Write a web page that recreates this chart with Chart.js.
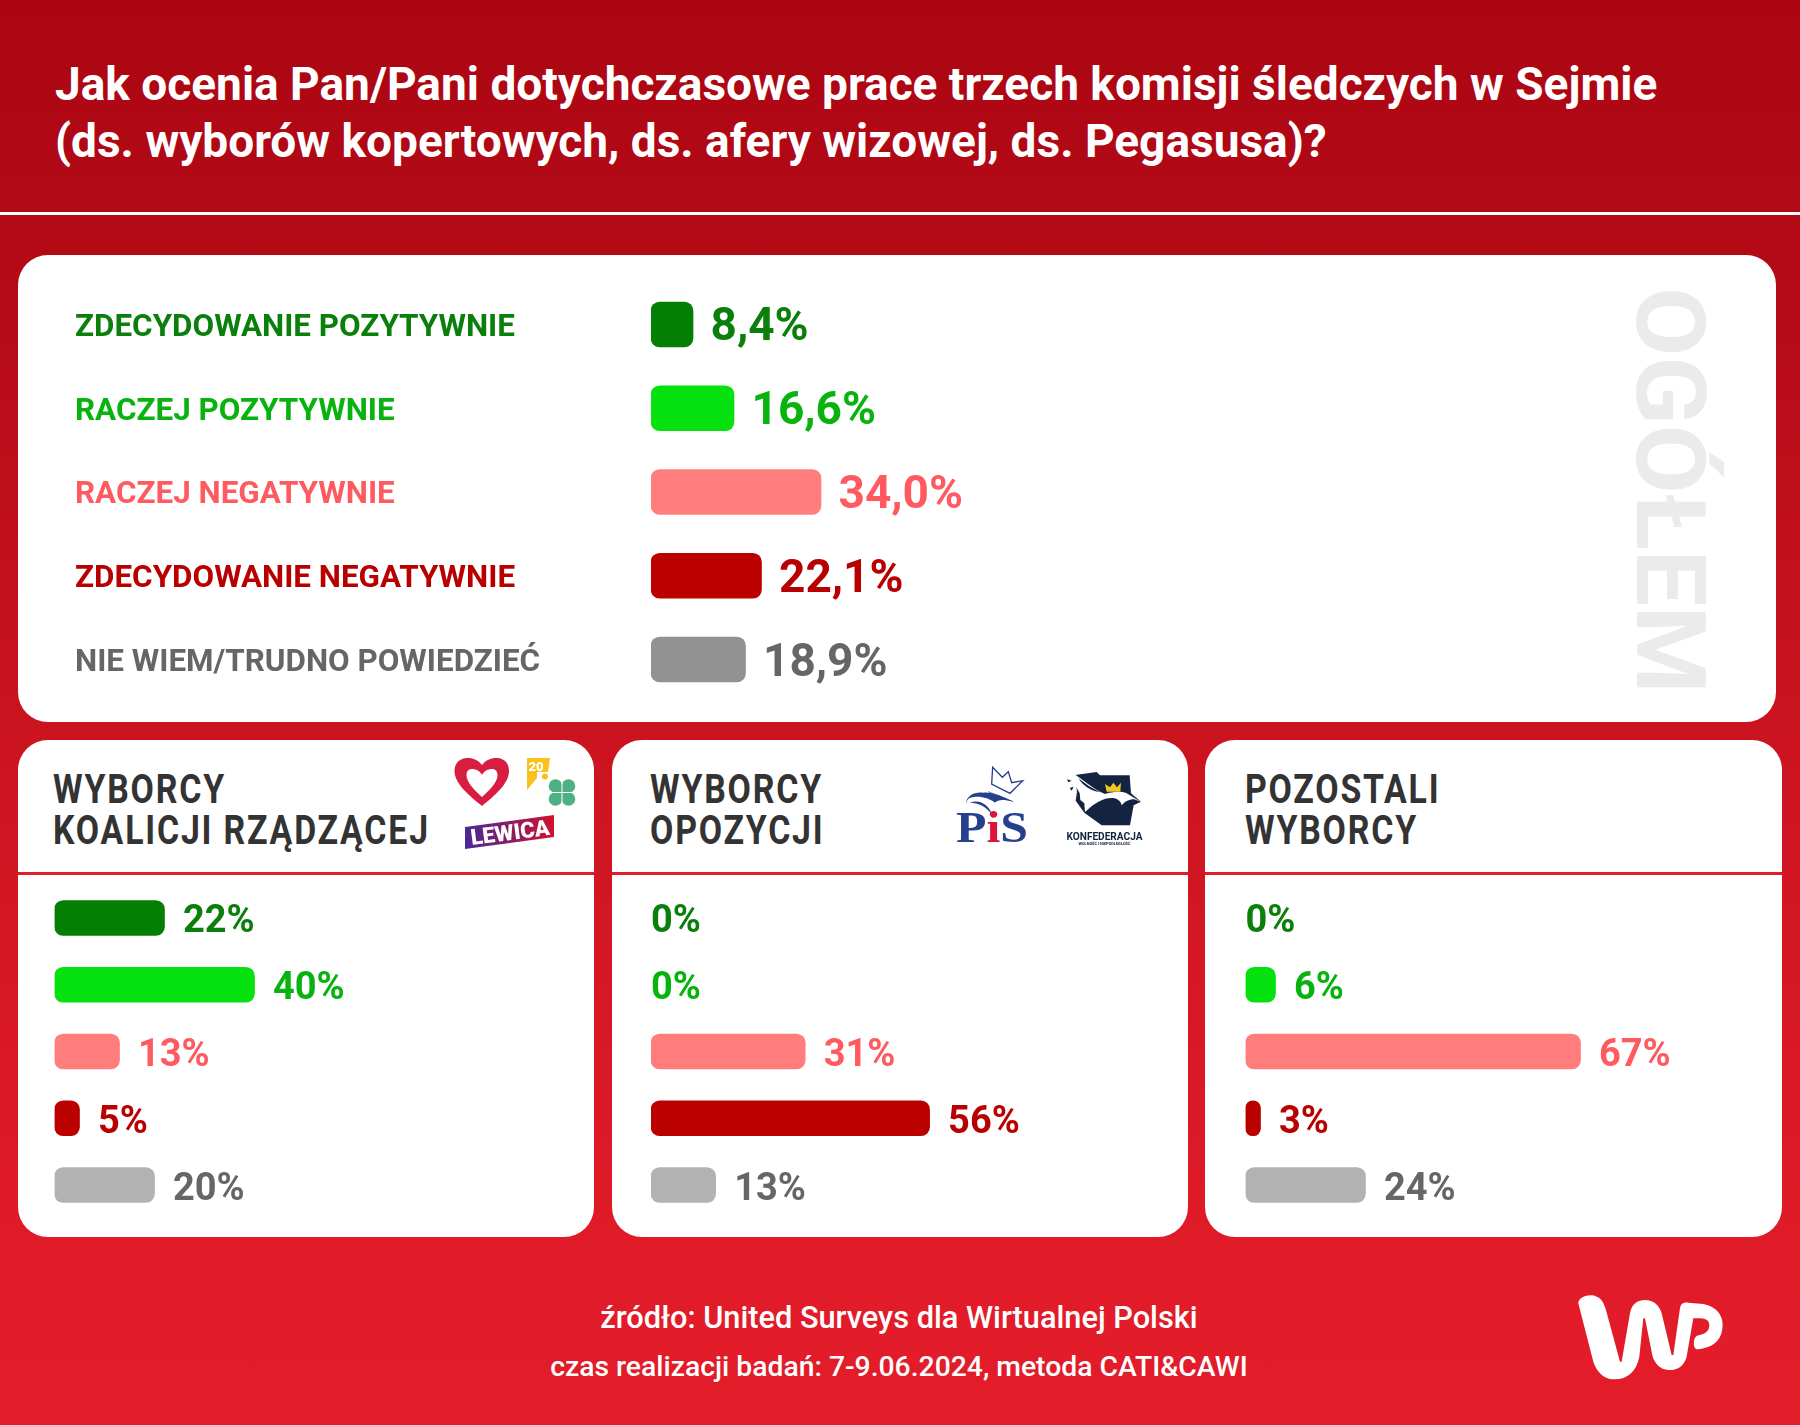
<!DOCTYPE html>
<html lang="pl">
<head>
<meta charset="utf-8">
<title>Ocena prac komisji śledczych</title>
<script src="https://cdn.jsdelivr.net/npm/chart.js@4/dist/chart.umd.min.js"></script>
<style>
    html, body { margin: 0; padding: 0; }
    #page {
        position: relative; width: 1800px; height: 1425px; overflow: hidden;
        background: linear-gradient(180deg, #ac0613 0%, #b30a16 18%, #cb1420 52%, #e01b28 86%, #e31c2a 100%);
        font-family: Roboto, sans-serif;
    }
    .abs { position: absolute; }
    .card { position: absolute; background: #fff; border-radius: 30px; }
    .title { left: 55px; color: #fff; font-weight: 700; font-size: 46px; line-height: 57px; white-space: nowrap; }
    .head {
        color: #333; font-weight: 700; font-size: 41px; line-height: 41px; white-space: nowrap;
        transform: scaleX(0.825); transform-origin: 0 0; letter-spacing: 2.2px;
    }
    .rule { position: absolute; height: 3px; background: #e21c2a; }
    .foot { left: 0; width: 1798px; text-align: center; color: #fff; font-weight: 500; white-space: nowrap; }
    canvas { position: absolute; display: block; }
    svg { position: absolute; left: 0; top: 0; }
</style>
</head>
<body>
<div id="page">
    <div class="abs title" style="top:56px">Jak ocenia Pan/Pani dotychczasowe prace trzech komisji śledczych w Sejmie</div>
    <div class="abs title" style="top:113px">(ds. wyborów kopertowych, ds. afery wizowej, ds. Pegasusa)?</div>
    <div class="abs" style="left:0;top:212px;width:1800px;height:3px;background:#fff"></div>

    <div class="card" style="left:18px;top:255px;width:1758px;height:467px"></div>
    <div class="card" style="left:18px;top:740px;width:576px;height:497px"></div>
    <div class="card" style="left:612px;top:740px;width:576px;height:497px"></div>
    <div class="card" style="left:1205px;top:740px;width:577px;height:497px"></div>

    <div class="rule" style="left:18px;top:872px;width:576px"></div>
    <div class="rule" style="left:612px;top:872px;width:576px"></div>
    <div class="rule" style="left:1205px;top:872px;width:577px"></div>

    <div class="abs head" style="left:53px;top:769px">WYBORCY</div>
    <div class="abs head" style="left:53px;top:810px">KOALICJI RZĄDZĄCEJ</div>
    <div class="abs head" style="left:650px;top:769px">WYBORCY</div>
    <div class="abs head" style="left:650px;top:810px">OPOZYCJI</div>
    <div class="abs head" style="left:1245px;top:769px">POZOSTALI</div>
    <div class="abs head" style="left:1245px;top:810px">WYBORCY</div>

    <div class="abs" style="left:1635px;top:287px;color:#ebebeb;font-weight:700;font-size:96px;line-height:69px;white-space:nowrap;transform-origin:0 0;transform:translate(69px,0) rotate(90deg) scaleX(1.045)">OGÓŁEM</div>

    <canvas id="chart-ogolem" width="1758" height="467" style="left:18px;top:255px"></canvas>
    <canvas id="chart-koalicja" width="576" height="361" style="left:18px;top:876px"></canvas>
    <canvas id="chart-opozycja" width="576" height="361" style="left:612px;top:876px"></canvas>
    <canvas id="chart-pozostali" width="577" height="361" style="left:1205px;top:876px"></canvas>

    <div class="abs foot" style="top:1299px;font-size:30.750px;line-height:38px">źródło: United Surveys dla Wirtualnej Polski</div>
    <div class="abs foot" style="top:1350px;font-size:28.300px;line-height:34px">czas realizacji badań: 7-9.06.2024, metoda CATI&amp;CAWI</div>

    <svg width="1800" height="1425" viewBox="0 0 1800 1425">
        <defs>
            <linearGradient id="lew" x1="0" x2="1" y1="0" y2="0">
                <stop offset="0" stop-color="#47289a"/>
                <stop offset="1" stop-color="#d0122f"/>
            </linearGradient>
        </defs>
        <!-- Koalicja -->
        <path d="M482 806C470 796 454.500 784 454.500 771C454.500 762 461 758 468 758C474 758 479 761 482 765C485 761 490 758 496 758C503 758 509 762 509 771C509 784 494 796 482 806Z" fill="#d81e40"/>
        <path d="M482 797C474 790 466.500 782 466.500 775C466.500 771 469 769 472 769C476 769 480 771 482 775C484 771 488 769 492 769C495 769 497.500 771 497.500 775C497.500 782 490 790 482 797Z" fill="#fff"/>
        <path d="M527 758H550L548 772H537V778L527 790Z" fill="#f9c11c"/>
        <circle cx="545" cy="776.500" r="3" fill="#f9c11c"/>
        <text x="528.500" y="770.500" font-family="Roboto" font-weight="900" font-size="13" fill="#fff">20</text>
        <g fill="#4fb086">
            <circle cx="555.500" cy="786" r="6.800"/><circle cx="568.500" cy="786" r="6.800"/>
            <circle cx="555.500" cy="799" r="6.800"/><circle cx="568.500" cy="799" r="6.800"/>
            <path d="M562 792.500L552 784H572L572 801H552L552 784Z"/>
        </g>
        <path d="M562 780V807M550 792.500H574" stroke="#fff" stroke-width="1"/>
        <path d="M465 827L554 815V837L465 849Z" fill="url(#lew)"/>
        <text x="510" y="840" transform="rotate(-7.500 510 832)" text-anchor="middle" font-family="Roboto" font-weight="900" font-size="22" fill="#fff">LEWICA</text>
        <!-- PiS -->
        <g transform="translate(945 760) scale(0.3333)">
            <path d="M143 22L172 52L190 35L200 68L233 62L195 100L140 72Z" fill="none" stroke="#27408b" stroke-width="4"/>
            <path d="M130 95L205 125" stroke="#27408b" stroke-width="2"/>
            <path d="M63 135C62 105 90 95 115 98C140 95 175 110 205 125C175 118 160 118 150 128C130 112 95 105 72 115C66 120 64 128 63 135Z" fill="#27408b"/>
            <path d="M75 128C100 118 130 130 142 165C125 140 100 128 75 128Z" fill="#27408b"/>
        </g>
        <text x="956" y="841.500" font-family="Liberation Serif" font-weight="700" font-size="45" textLength="72" lengthAdjust="spacingAndGlyphs" fill="#27408b">P<tspan fill="#dc143c">i</tspan>S</text>
        <!-- Konfederacja -->
        <g transform="translate(1055 760) scale(0.3333)">
            <path d="M60 45L125 36L135 46L224 46L228 100L258 125L236 136L225 196L140 196L88 158L62 122L66 95Z" fill="#14233f"/>
            <path d="M48 35C80 55 110 85 150 102C170 96 195 92 215 100L258 126L238 118C225 118 212 122 200 136C198 122 185 114 170 114C145 114 120 128 90 156L88 130L76 120L74 100L60 75Z" fill="#fff"/>
            <path d="M70 55C90 70 110 85 135 97C105 92 85 78 70 55Z" fill="#14233f"/>
            <path d="M36 58L50 62L40 67ZM44 84L56 80L50 92Z" fill="#14233f"/>
            <path d="M150 72L165 82L175 68L186 82L198 68L196 95L155 95Z" fill="#f3c623"/>
        </g>
        <text x="1104.500" y="840" text-anchor="middle" font-family="Roboto" font-weight="700" font-size="10.500" textLength="76" lengthAdjust="spacingAndGlyphs" fill="#14233f">KONFEDERACJA</text>
        <text x="1104.500" y="845" text-anchor="middle" font-family="Roboto" font-weight="700" font-size="3.500" textLength="52" lengthAdjust="spacingAndGlyphs" fill="#14233f">WOLNOŚĆ I NIEPODLEGŁOŚĆ</text>
        <!-- WP -->
        <path transform="translate(1400 1250) scale(0.3333)" fill="#fff" d="M535 160C535 140 570 130 590 140C605 145 612 160 618 180L660 335L665 335L690 190C695 160 715 150 735 150C760 150 778 165 785 190L815 315L820 315L840 175C843 160 850 157 865 158L910 162C950 170 968 195 968 225C968 265 945 290 905 296L895 298C885 298 880 290 882 275C883 262 890 256 900 255C920 250 928 240 928 225C928 210 915 205 895 205L880 205L860 320C852 350 830 362 805 360C780 358 765 340 758 320L735 205L730 205L718 320C710 365 680 390 640 388C610 386 590 365 580 335Z"/>
    </svg>
</div>

<script>
// Dane
const categories = ['ZDECYDOWANIE POZYTYWNIE', 'RACZEJ POZYTYWNIE', 'RACZEJ NEGATYWNIE', 'ZDECYDOWANIE NEGATYWNIE', 'NIE WIEM/TRUDNO POWIEDZIEĆ'];
const ogolem = [8.4, 16.6, 34.0, 22.1, 18.9];
const koalicja = [22, 40, 13, 5, 20];
const opozycja = [0, 0, 31, 56, 13];
const pozostali = [0, 6, 67, 3, 24];

const barColors = ['#038003', '#04e10e', '#ff7d7d', '#bb0000', '#929292'];
const panelBarColors = ['#038003', '#04e10e', '#ff7d7d', '#bb0000', '#b2b2b2'];
const textColors = ['#0b7f0b', '#09b30f', '#ff5a5f', '#b80000', '#666666'];

// Etykiety wartości rysowane obok słupków
const valueLabels = {
    id: 'valueLabels',
    afterDatasetsDraw(chart, args, opts) {
        const ctx = chart.ctx;
        const meta = chart.getDatasetMeta(0);
        ctx.save();
        ctx.font = opts.font;
        ctx.textBaseline = 'alphabetic';
        meta.data.forEach((bar, i) => {
            const value = chart.data.datasets[0].data[i];
            const text = (opts.decimals ? value.toFixed(1).replace('.', ',') : value) + '%';
            ctx.fillStyle = textColors[i];
            ctx.fillText(text, value > 0 ? bar.x + opts.gap : bar.x, bar.y + opts.dy);
        });
        ctx.restore();
    }
};

function createBars(canvasId, values, colors, layout, barSize, labelOpts, showLabels) {
    const ctx = document.getElementById(canvasId);
    return new Chart(ctx, {
        type: 'bar',
        data: {
            labels: categories,
            datasets: [{
                data: values,
                // 0% nie ma słupka, inaczej zostaje cienka kreska
                backgroundColor: c => values[c.dataIndex] > 0 ? colors[c.dataIndex] : 'transparent',
                barThickness: barSize,
                borderRadius: 9,
                borderSkipped: false
            }]
        },
        plugins: [valueLabels],
        options: {
            indexAxis: 'y',
            responsive: false,
            animation: false,
            layout: { padding: layout },
            plugins: {
                legend: { display: false },
                tooltip: { enabled: false },
                valueLabels: labelOpts
            },
            scales: {
                x: { display: false, min: 0, max: 100 },
                y: {
                    display: showLabels,
                    grid: { display: false },
                    border: { display: false },
                    afterFit(axis) { if (showLabels) axis.width = 576; },
                    ticks: {
                        crossAlign: 'far',
                        padding: 0,
                        autoSkip: false,
                        color: c => textColors[c.index],
                        // pusta pierwsza linia obniża tekst o pół lineHeight
                        callback(value) { return ['', this.getLabelForValue(value)]; },
                        font: { family: 'Roboto', weight: '700', size: 31.4, lineHeight: '7px' }
                    }
                }
            }
        }
    });
}

document.addEventListener('DOMContentLoaded', function () {
    createBars('chart-ogolem', ogolem, barColors,
        { left: 57, right: 625, top: 27.6, bottom: 20.6 }, 45,
        { font: '700 46px Roboto', gap: 17.5, dy: 16, decimals: true }, true);

    const panelLabels = { font: '700 38px Roboto', gap: 18.5, dy: 14.5, decimals: false };
    const panelPad = { right: 39.5, top: 8.6, bottom: 18.6 };
    createBars('chart-koalicja', koalicja, panelBarColors, { ...panelPad, left: 36.5 }, 35, panelLabels, false);
    createBars('chart-opozycja', opozycja, panelBarColors, { ...panelPad, left: 39 }, 35, panelLabels, false);
    createBars('chart-pozostali', pozostali, panelBarColors, { ...panelPad, left: 40.5, right: 36.5 }, 35, panelLabels, false);
});
</script>
</body>
</html>
